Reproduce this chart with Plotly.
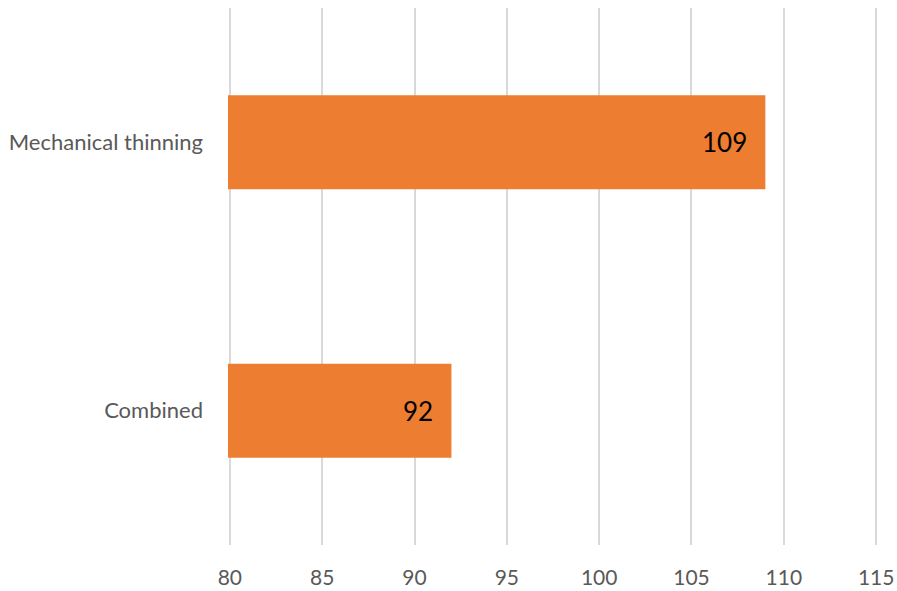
import plotly.graph_objects as go

categories = ["Combined", "Mechanical thinning"]
values = [92, 109]
x_ticks = [80, 85, 90, 95, 100, 105, 110, 115]

BAR = "#ED7D31"
FONT = "Lato, Open Sans, sans-serif"

fig = go.Figure(go.Bar(
    x=values, y=categories, orientation="h",
    marker=dict(color=BAR, line=dict(width=0)),
    width=0.35, hoverinfo="skip",
))

for c, v in zip(categories, values):
    fig.add_annotation(x=v, y=c, text=str(v), showarrow=False,
                       xanchor="right", xshift=-16,
                       font=dict(family=FONT, size=26, color="#000000"))

fig.update_layout(
    width=897, height=591,
    margin=dict(l=228, r=19, t=8, b=46),
    paper_bgcolor="white", plot_bgcolor="white",
    showlegend=False,
    font=dict(family=FONT, color="#595959", size=22),
    xaxis=dict(range=[79.9, 115.1], tickvals=x_ticks, ticktext=[str(t) for t in x_ticks],
               showgrid=True, gridcolor="#D9D9D9", gridwidth=1.5,
               zeroline=False, showline=False, ticks="", ticklen=0,
               automargin=False, ticklabelstandoff=18,
               tickfont=dict(size=21, color="#595959"), fixedrange=True),
    yaxis=dict(categoryorder="array", categoryarray=categories,
               showgrid=False, zeroline=False, showline=False,
               ticks="", ticklabelstandoff=24, automargin=False,
               tickfont=dict(size=22, color="#595959")),
)

# remove the browser's default 8px body margin so the figure fills the window
fig.write_html(
    "out.html",
    config={"displayModeBar": False},
    post_script="document.body.style.margin='0';document.body.style.overflow='hidden';",
)
